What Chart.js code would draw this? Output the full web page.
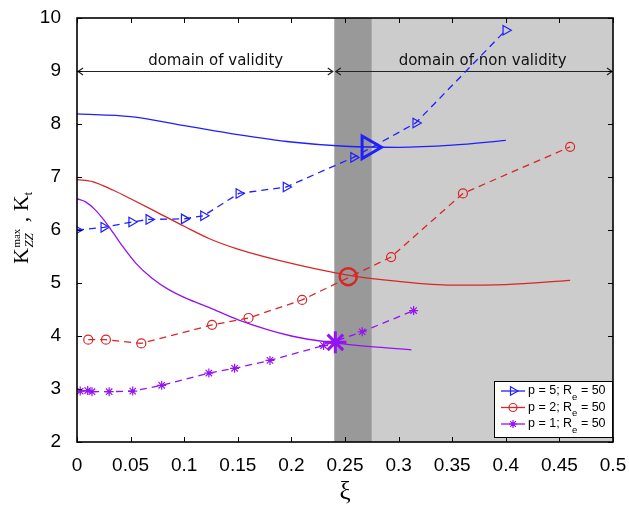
<!DOCTYPE html>
<html>
<head>
<meta charset="utf-8">
<script src="https://cdn.jsdelivr.net/npm/chart.js"></script>
<style>
  body { margin: 0; padding: 0; background: white; }
  #wrap { width: 629px; height: 507px; }
</style>
</head>
<body>
<div id="wrap"><canvas id="kChart"></canvas></div>
<script>
// axis ticks
const xTickValues = [0, 0.05, 0.1, 0.15, 0.2, 0.25, 0.3, 0.35, 0.4, 0.45, 0.5];
const xTickLabels = ["0", "0.05", "0.1", "0.15", "0.2", "0.25", "0.3", "0.35", "0.4", "0.45", "0.5"];
const yTickValues = [2, 3, 4, 5, 6, 7, 8, 9, 10];
const yTickLabels = ["2", "3", "4", "5", "6", "7", "8", "9", "10"];

// validity domains along xi
const validLimit = 0.24;
const transitionEnd = 0.275;

// Kt curves (solid)
const ktXiP5 = [0, 0.05, 0.1, 0.15, 0.2, 0.25, 0.3, 0.35, 0.4];
const ktP5   = [8.19, 8.14, 7.97, 7.8, 7.66, 7.58, 7.56, 7.6, 7.69];
const ktXiP2 = [0, 0.015, 0.034, 0.05, 0.077, 0.1, 0.123, 0.15, 0.2, 0.25, 0.3, 0.35, 0.4, 0.46];
const ktP2   = [6.95, 6.91, 6.75, 6.59, 6.31, 6.07, 5.84, 5.64, 5.37, 5.16, 5.03, 4.96, 4.97, 5.05];
const ktXiP1 = [0, 0.008, 0.017, 0.025, 0.034, 0.043, 0.055, 0.07, 0.086, 0.102, 0.123, 0.151, 0.2, 0.24, 0.28, 0.312];
const ktP1   = [6.59, 6.53, 6.38, 6.19, 5.94, 5.68, 5.37, 5.09, 4.87, 4.71, 4.54, 4.3, 4.0, 3.87, 3.79, 3.74];

// Kzz max, Re = 50 (dashed with markers)
const kzzXiP5 = [0, 0.025, 0.051, 0.067, 0.1, 0.118, 0.151, 0.195, 0.258, 0.316, 0.4];
const kzzP5   = [6.0, 6.05, 6.15, 6.2, 6.21, 6.27, 6.69, 6.81, 7.37, 8.02, 9.77];
const kzzXiP2 = [0.0105, 0.027, 0.06, 0.126, 0.16, 0.21, 0.293, 0.36, 0.46];
const kzzP2   = [3.93, 3.93, 3.86, 4.21, 4.34, 4.68, 5.49, 6.69, 7.57];
const kzzXiP1 = [0.003, 0.01, 0.014, 0.03, 0.052, 0.079, 0.123, 0.147, 0.18, 0.23, 0.266, 0.314];
const kzzP1   = [2.96, 2.97, 2.95, 2.95, 2.96, 3.07, 3.3, 3.39, 3.54, 3.82, 4.08, 4.48];

// crossing points of Kt and Kzz
const crossXi = [0.272, 0.253, 0.241];
const crossK  = [7.56, 5.12, 3.88];

const seriesNames = ["p = 5; R", "p = 2; R", "p = 1; R"];

const BLUE = "#1f1fff";
const RED = "#d82626";
const PURPLE = "#9512f2";
const colors = [BLUE, RED, PURPLE];
const markers = ["triangle", "circle", "star"];

const pts = (xs, ys) => xs.map((x, i) => ({ x: x, y: ys[i] }));

function solid(xs, ys, color) {
  return {
    data: pts(xs, ys), showLine: true, borderColor: color, borderWidth: 1.3,
    pointRadius: 0, cubicInterpolationMode: "monotone", fill: false
  };
}
function dashed(xs, ys, color, style) {
  return {
    data: pts(xs, ys), showLine: true, borderColor: color, borderWidth: 1.3,
    borderDash: [7, 5], tension: 0, fill: false,
    pointStyle: style, pointRotation: style === "triangle" ? 90 : 0,
    pointRadius: style === "triangle" ? 5.5 : 4.5, pointBorderWidth: 1.2,
    pointBorderColor: color, pointBackgroundColor: "rgba(0,0,0,0)"
  };
}
function bigMarker(i, style, radius, width) {
  return {
    data: [{ x: crossXi[i], y: crossK[i] }], showLine: false,
    pointStyle: style, pointRotation: style === "triangle" ? 90 : 0,
    pointRadius: radius, pointBorderWidth: width,
    pointBorderColor: colors[i], pointBackgroundColor: "rgba(0,0,0,0)"
  };
}

// small marker drawing for the legend box
function drawMarker(ctx, style, x, y, r) {
  ctx.beginPath();
  if (style === "triangle") {
    ctx.moveTo(x + r, y);
    ctx.lineTo(x - r / 2, y - r * 0.866);
    ctx.lineTo(x - r / 2, y + r * 0.866);
    ctx.closePath();
  } else if (style === "circle") {
    ctx.arc(x, y, r, 0, Math.PI * 2);
  } else {
    for (let k = 0; k < 4; k++) {
      const a = k * Math.PI / 4;
      ctx.moveTo(x - Math.cos(a) * r, y - Math.sin(a) * r);
      ctx.lineTo(x + Math.cos(a) * r, y + Math.sin(a) * r);
    }
  }
  ctx.stroke();
}

function arrowHead(ctx, x, y, dir) {
  ctx.beginPath();
  ctx.moveTo(x + dir * 5, y - 3.5);
  ctx.lineTo(x, y);
  ctx.lineTo(x + dir * 5, y + 3.5);
  ctx.stroke();
}

const decorations = {
  id: "decorations",
  beforeDatasetsDraw(chart) {
    const { ctx, chartArea: a, scales: { x, y } } = chart;
    const xv = x.getPixelForValue(validLimit);
    const xt = x.getPixelForValue(transitionEnd);
    ctx.save();
    ctx.fillStyle = "#cccccc";
    ctx.fillRect(xt, a.top, a.right - xt, a.bottom - a.top);
    ctx.fillStyle = "#999999";
    ctx.fillRect(xv, a.top, xt - xv, a.bottom - a.top);

    // domain arrows at K = 9
    const ya = Math.round(y.getPixelForValue(9)) + 0.5;
    ctx.strokeStyle = "#222";
    ctx.lineWidth = 1.2;
    ctx.beginPath();
    ctx.moveTo(a.left, ya); ctx.lineTo(xv - 1.5, ya);
    ctx.moveTo(xv + 1.5, ya); ctx.lineTo(a.right, ya);
    ctx.stroke();
    arrowHead(ctx, a.left + 1, ya, 1);
    arrowHead(ctx, xv - 1.5, ya, -1);
    arrowHead(ctx, xv + 1.5, ya, 1);
    arrowHead(ctx, a.right - 1, ya, -1);

    ctx.fillStyle = "#111";
    ctx.font = "15px 'DejaVu Sans'";
    ctx.textAlign = "center";
    ctx.textBaseline = "alphabetic";
    ctx.fillText("domain of validity", (a.left + xv) / 2 + 10, ya - 7);
    ctx.fillText("domain of non validity", (xv + a.right) / 2 + 9, ya - 7);
    ctx.restore();
  },
  afterDatasetsDraw(chart) {
    const { ctx, chartArea: a, scales: { x, y } } = chart;
    ctx.save();

    // inward tick marks on all four sides
    ctx.strokeStyle = "#000";
    ctx.lineWidth = 1;
    ctx.beginPath();
    xTickValues.forEach(v => {
      const px = Math.round(x.getPixelForValue(v)) + 0.5;
      ctx.moveTo(px, a.bottom); ctx.lineTo(px, a.bottom - 5);
      ctx.moveTo(px, a.top); ctx.lineTo(px, a.top + 5);
    });
    yTickValues.forEach(v => {
      const py = Math.round(y.getPixelForValue(v)) + 0.5;
      ctx.moveTo(a.left, py); ctx.lineTo(a.left + 5, py);
      ctx.moveTo(a.right, py); ctx.lineTo(a.right - 5, py);
    });
    ctx.stroke();

    // frame
    ctx.lineWidth = 1.6;
    ctx.strokeRect(a.left, a.top, a.right - a.left, a.bottom - a.top);

    // legend
    const bx = 494, by = 381, bw = 118, bh = 56;
    ctx.fillStyle = "#fff";
    ctx.fillRect(bx, by, bw, bh);
    ctx.lineWidth = 1;
    ctx.strokeStyle = "#000";
    ctx.strokeRect(bx + 0.5, by + 0.5, bw, bh);
    seriesNames.forEach((name, i) => {
      const ry = by + 10 + i * 16.5;
      ctx.strokeStyle = colors[i];
      ctx.lineWidth = 1.3;
      ctx.beginPath();
      ctx.moveTo(bx + 7, ry); ctx.lineTo(bx + 31, ry);
      ctx.stroke();
      ctx.lineWidth = 1.2;
      drawMarker(ctx, markers[i], bx + 19, ry, markers[i] === "triangle" ? 5 : 4);
      ctx.fillStyle = "#000";
      ctx.font = "12.5px 'Liberation Sans'";
      ctx.textAlign = "left";
      ctx.textBaseline = "middle";
      let tx = bx + 34;
      ctx.fillText(name, tx, ry);
      tx += ctx.measureText(name).width;
      ctx.font = "9.5px 'Liberation Sans'";
      ctx.fillText("e", tx, ry + 6);
      tx += ctx.measureText("e").width;
      ctx.font = "12.5px 'Liberation Sans'";
      ctx.fillText(" = 50", tx, ry);
    });

    // axis titles
    ctx.fillStyle = "#000";
    ctx.textBaseline = "alphabetic";
    ctx.textAlign = "center";
    ctx.font = "25px 'Liberation Serif'";
    ctx.fillText("\u03BE", (a.left + a.right) / 2, 499);

    ctx.translate(28, 232);
    ctx.rotate(-Math.PI / 2);
    ctx.textAlign = "left";
    const big = "22px 'Liberation Serif'";
    const sup = "11px 'Liberation Serif'";
    const sub = "italic 13px 'Liberation Serif'";
    const small = "12px 'Liberation Serif'";
    let tx = -32;
    ctx.font = big; ctx.fillText("K", tx, 0); tx += ctx.measureText("K").width + 0.5;
    ctx.font = sup; ctx.fillText("max", tx, -8); const wSup = ctx.measureText("max").width;
    ctx.font = sub; ctx.fillText("ZZ", tx, 5); const wSub = ctx.measureText("ZZ").width;
    tx += Math.max(wSup, wSub) + 1;
    ctx.font = big; ctx.fillText(" , K", tx, 0); tx += ctx.measureText(" , K").width;
    ctx.font = small; ctx.fillText("t", tx, 4);
    ctx.restore();
  }
};

// fixed plot frame: ticks may not push the chart area around
function pinPadding(s) {
  s.paddingLeft = 0; s.paddingRight = 0; s.paddingTop = 0; s.paddingBottom = 0;
}

new Chart(document.getElementById("kChart"), {
  type: "scatter",
  data: {
    datasets: [
      solid(ktXiP5, ktP5, BLUE),
      solid(ktXiP2, ktP2, RED),
      solid(ktXiP1, ktP1, PURPLE),
      dashed(kzzXiP5, kzzP5, BLUE, "triangle"),
      dashed(kzzXiP2, kzzP2, RED, "circle"),
      dashed(kzzXiP1, kzzP1, PURPLE, "star"),
      bigMarker(0, "triangle", 13, 3),
      bigMarker(1, "circle", 8.5, 2.5),
      bigMarker(2, "star", 11, 3)
    ]
  },
  options: {
    responsive: true,
    maintainAspectRatio: false,
    animation: false,
    layout: { padding: { top: 18, right: 13, left: 0, bottom: 0 } },
    plugins: { legend: { display: false }, tooltip: { enabled: false } },
    scales: {
      x: {
        type: "linear", min: 0, max: 0.5,
        afterBuildTicks: s => { s.ticks = xTickValues.map(v => ({ value: v })); },
        afterFit: s => { s.height = 65; pinPadding(s); },
        grid: { display: false },
        border: { display: false },
        ticks: {
          color: "#000", padding: 4, maxRotation: 0, autoSkip: false,
          font: { family: "'Liberation Sans'", size: 19 },
          callback: (v, i) => xTickLabels[i]
        }
      },
      y: {
        type: "linear", min: 2, max: 10,
        afterBuildTicks: s => { s.ticks = yTickValues.map(v => ({ value: v })); },
        afterFit: s => { s.width = 77; pinPadding(s); },
        grid: { display: false },
        border: { display: false },
        ticks: {
          color: "#000", padding: 8, autoSkip: false,
          font: { family: "'Liberation Sans'", size: 19 },
          callback: (v, i) => yTickLabels[i]
        }
      }
    }
  },
  plugins: [decorations]
});
</script>
</body>
</html>
